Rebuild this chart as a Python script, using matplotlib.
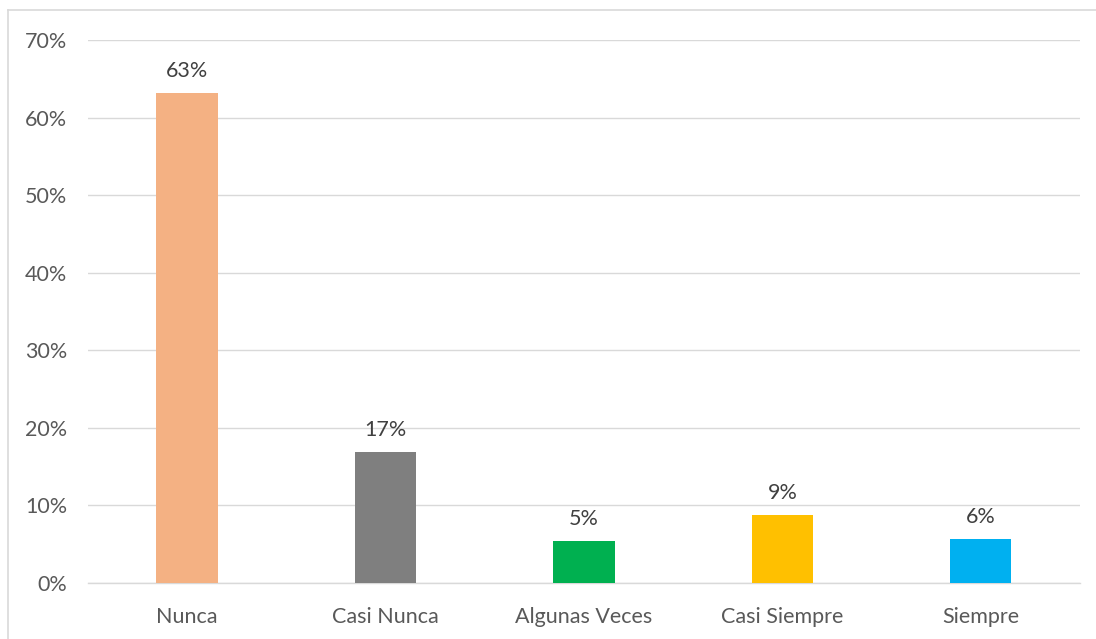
import matplotlib.pyplot as plt
from matplotlib.lines import Line2D

categories = ['Nunca', 'Casi Nunca', 'Algunas Veces', 'Casi Siempre', 'Siempre']
values = [63.2, 16.9, 5.4, 8.8, 5.7]
labels = ['63%', '17%', '5%', '9%', '6%']
colors = ['#F4B183', '#7F7F7F', '#00B050', '#FFC000', '#00B0F0']
yticks = [0, 10, 20, 30, 40, 50, 60, 70]

plt.rcParams['font.family'] = ['Lato', 'DejaVu Sans']
text_color = '#595959'
fs = 15.5

fig = plt.figure(figsize=(10.96, 6.39), dpi=100)
ax = fig.add_axes([0.0803, 0.0876, 0.905, 0.8498])

x = range(len(categories))
bars = ax.bar(x, values, width=0.31, color=colors, zorder=3)
for b, lab in zip(bars, labels):
    ax.text(b.get_x() + b.get_width() / 2, b.get_height() + 1.5, lab,
            ha='center', va='bottom', fontsize=fs, color='#404040')

ax.set_xlim(-0.5, len(categories) - 0.5)
ax.set_ylim(0, 70)
ax.set_yticks(yticks)
ax.set_yticklabels([f'{t}%' for t in yticks])
ax.set_xticks(list(x))
ax.set_xticklabels(categories)
ax.tick_params(axis='both', length=0, labelsize=fs, colors=text_color)
ax.tick_params(axis='y', pad=15)
ax.tick_params(axis='x', pad=17)
ax.grid(axis='y', color='#D9D9D9', linewidth=1, zorder=0)
for s in ['top', 'right', 'left']:
    ax.spines[s].set_visible(False)
ax.spines['bottom'].set_color('#D9D9D9')
ax.spines['bottom'].set_linewidth(1)

# chart-area border: only left and top edges are visible in the crop
W, H = 1096, 639
fig.lines.append(Line2D([7.5 / W, 7.5 / W], [0, 1 - 10 / H], transform=fig.transFigure,
                        color='#D9D9D9', linewidth=1.2))
fig.lines.append(Line2D([7.5 / W, 1], [1 - 10 / H, 1 - 10 / H], transform=fig.transFigure,
                        color='#D9D9D9', linewidth=1.2))

fig.savefig('out.png', dpi=100)
